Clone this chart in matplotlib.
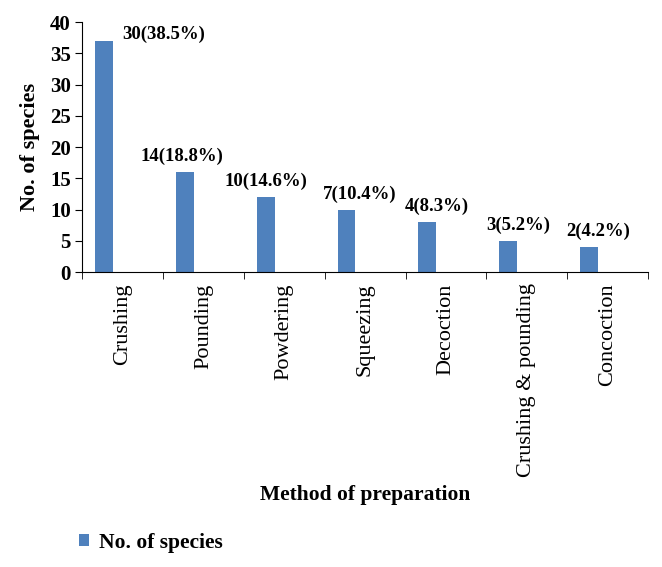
import matplotlib
matplotlib.use("Agg")
import matplotlib.pyplot as plt
import numpy as np

# data
methods = ["Crushing", "Pounding", "Powdering", "Squeezing", "Decoction",
           "Crushing & pounding", "Concoction"]
species = [37, 16, 12, 10, 8, 5, 4]
bar_labels = ["30(38.5%)", "14(18.8%)", "10(14.6%)", "7(10.4%)", "4(8.3%)",
              "3(5.2%)", "2(4.2%)"]

plt.rcParams["font.family"] = ["Liberation Serif", "DejaVu Serif"]
bar_color = "#4F81BD"

fig = plt.figure(figsize=(6.62, 5.67), dpi=100)
ax = fig.add_axes([0.124, 0.520, 0.855, 0.441])

x = np.arange(len(methods))
bar_w = 0.22
bar_x = x - 0.23
bars = ax.bar(bar_x, species, width=bar_w, color=bar_color, label="No. of species")

# value labels: the first one sits to the right of the tall bar
label_dx = [0.0, -0.03, 0.0, 0.16, 0.12, 0.12, 0.11]
for i, (b, lab) in enumerate(zip(bars, bar_labels)):
    h = b.get_height()
    if i == 0:
        ax.annotate(lab, (b.get_x() + b.get_width(), h), xytext=(7, 5),
                    textcoords="offset points", ha="left", va="center",
                    fontsize=13.5, fontweight="bold")
    else:
        ax.annotate(lab, (bar_x[i] + label_dx[i], h), xytext=(0, 5),
                    textcoords="offset points", ha="center", va="bottom",
                    fontsize=13.5, fontweight="bold")

ax.set_xlim(-0.5, len(methods) - 0.5)
ax.set_ylim(0, 40)
ax.set_yticks(np.arange(0, 41, 5))
for t in ax.get_yticklabels():
    t.set_fontweight("bold")
    t.set_fontsize(15)

ax.set_xticks(x)
ax.set_xticklabels(methods, rotation=90, fontsize=16)
ax.set_xticks(np.arange(-0.5, len(methods)), minor=True)
ax.tick_params(axis="x", which="major", length=0, pad=8)
ax.tick_params(axis="x", which="minor", length=5, direction="out")
ax.tick_params(axis="y", length=5, direction="out", pad=3)

ax.spines["top"].set_visible(False)
ax.spines["right"].set_visible(False)

ax.set_ylabel("No. of species", fontsize=16, fontweight="bold")
ax.yaxis.set_label_coords(-0.075, 0.5)
ax.set_xlabel("Method of preparation", fontsize=15.5, fontweight="bold")
ax.xaxis.set_label_coords(0.5, -0.85)

fig.legend(handles=[bars], labels=["No. of species"], loc="center left",
           bbox_to_anchor=(0.09, 0.043), frameon=False,
           prop={"weight": "bold", "size": 15.5}, handlelength=0.45,
           handleheight=0.45, handletextpad=0.5)

fig.savefig("out.png", dpi=100)
